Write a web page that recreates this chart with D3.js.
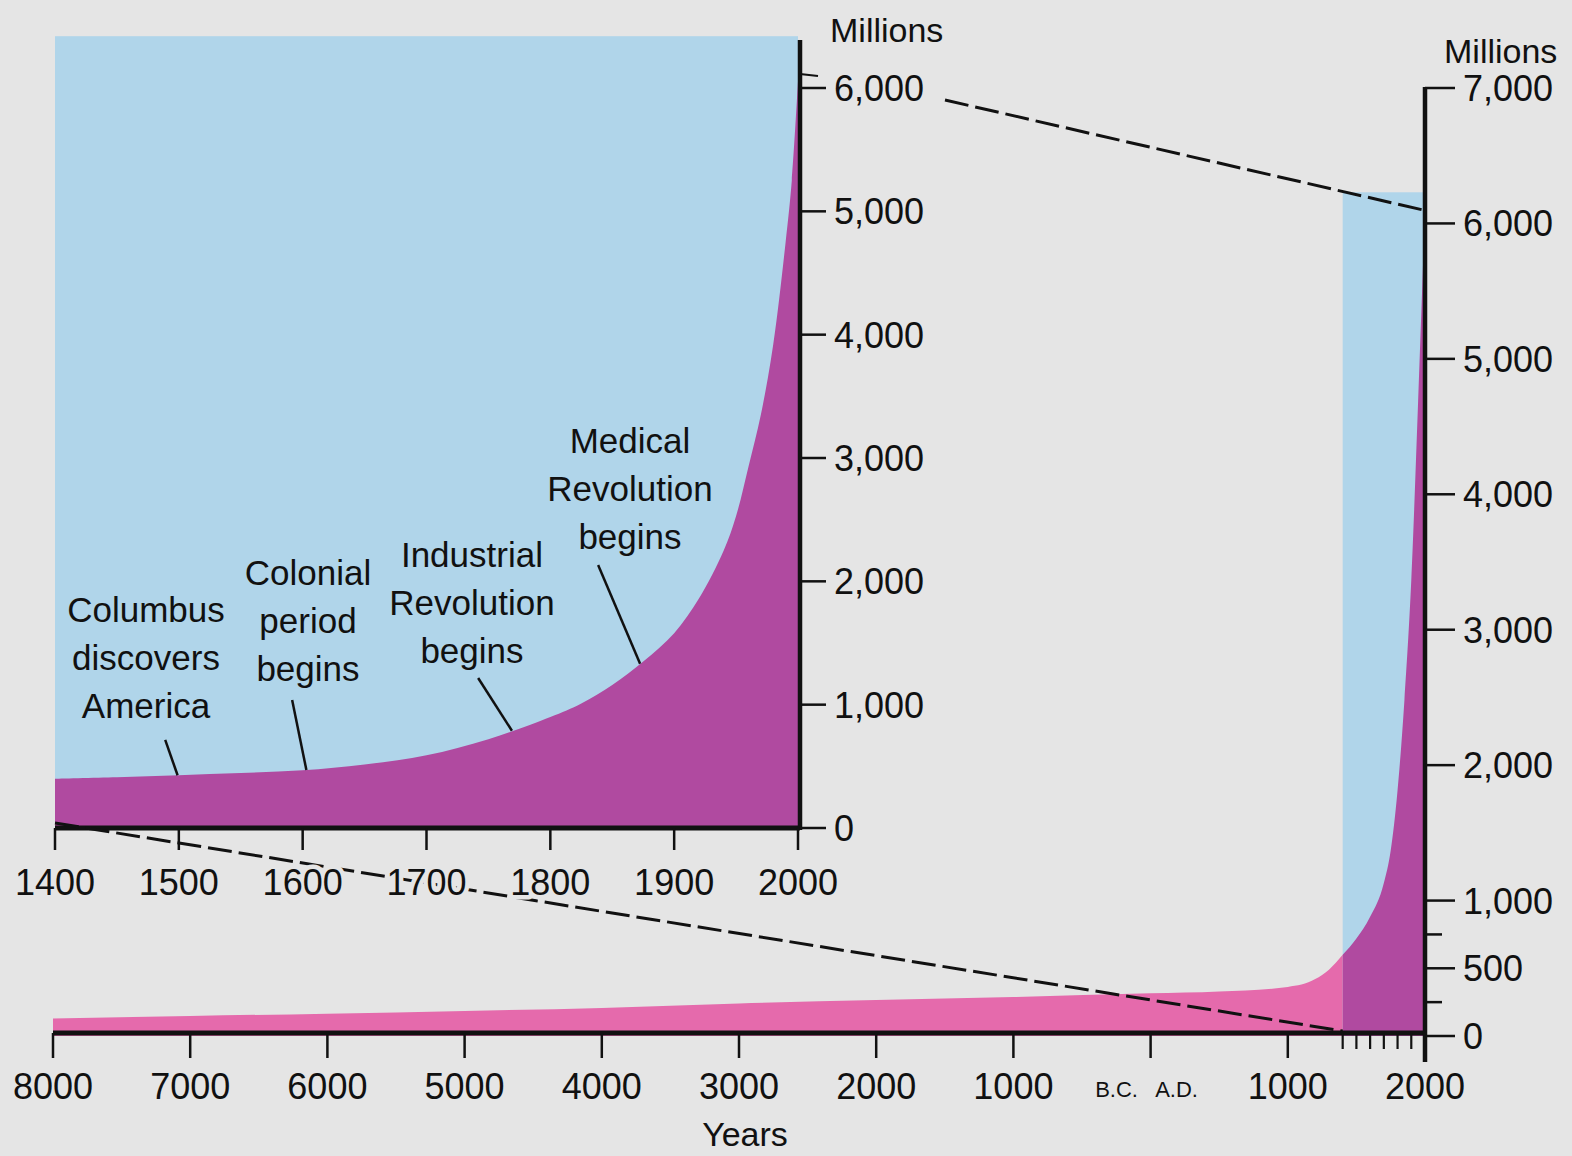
<!DOCTYPE html>
<html><head><meta charset="utf-8">
<script src="https://cdn.jsdelivr.net/npm/d3@7"></script>
<style>
html,body{margin:0;padding:0;background:#e5e5e5;}
svg{display:block;font-family:"Liberation Sans",Arial,Helvetica,sans-serif;}
</style></head><body>
<svg id="c" width="1572" height="1156"></svg>
<script>
// ---------- data ----------
// Inset: world population 1400-2000 (millions)
const insetYears = [1400,1450,1500,1550,1600,1650,1700,1750,1800,1825,1850,1875,1900,1920,1940,1950,1960,1970,1980,1990,1995,2000];
const insetPop   = [400, 412, 428, 445, 468, 515, 590, 720, 900,1010,1160,1350,1580,1860,2250,2530,2930,3350,3920,4750,5250,6050];
const insetTickYears = [1400,1500,1600,1700,1800,1900,2000];
const insetTickPop = [0,1000,2000,3000,4000,5000,6000];
const insetTopPop = 6420;

// Long view: 8000 B.C. - A.D. 1400 (negative = B.C.)
const longYears = [-8000,-7000,-6000,-5000,-4000,-3000,-2000,-1000,0,500,1000,1200,1300,1400];
const longPop   = [130, 148, 165, 185, 207, 240, 265, 288, 315, 328, 362, 420, 490, 600];
// Long view: A.D. 1400 - 2000
const recentYears = [1400,1500,1600,1700,1750,1800,1850,1900,1950,2000];
const recentPop   = [600, 720, 880,1130,1370,1815,2480,3365,4690,6110];
const longTickYears  = [-8000,-7000,-6000,-5000,-4000,-3000,-2000,-1000,0,1000,2000];
const longTickLabels = ["8000","7000","6000","5000","4000","3000","2000","1000","","1000","2000"];
const longMinorYears = [1400,1500,1600,1700,1800,1900];
const rightTickPop = [0,500,1000,2000,3000,4000,5000,6000,7000];
const rightTickLabels = ["0","500","1,000","2,000","3,000","4,000","5,000","6,000","7,000"];
const rightMinorPop = [250,750];
const rightTopPop = 6230;

const annotations = [
  {lines:["Columbus","discovers","America"], year:1499, fromYear:1489, fromPop:714, labelYear:1473.5, labelPop:1670},
  {lines:["Colonial","period","begins"], year:1603, fromYear:1591.5, fromPop:1038, labelYear:1604.3, labelPop:1970},
  {lines:["Industrial","Revolution","begins"], year:1769, fromYear:1741.7, fromPop:1216, labelYear:1736.7, labelPop:2116},
  {lines:["Medical","Revolution","begins"], year:1872.5, fromYear:1838.6, fromPop:2133, labelYear:1864.3, labelPop:3041}
];

// ---------- layout ----------
const BG = "#e5e5e5", BLUE = "#b0d5ea", PURPLE = "#b04aa0", PINK = "#e56aac";
const svg = d3.select("#c");
svg.append("rect").attr("width",1572).attr("height",1156).attr("fill",BG);

const ix = d3.scaleLinear().domain([1400,2000]).range([55,798]);
const iy = d3.scaleLinear().domain([0,6000]).range([828,88]);
const lx = d3.scaleLinear().domain([-8000,2000]).range([53,1425]);
const ry = d3.scaleLinear().domain([0,7000]).range([1036,88]);
const smooth = d3.curveCatmullRom.alpha(0.5);

// ----- inset -----
svg.append("rect").attr("x",ix(1400)).attr("y",iy(insetTopPop))
  .attr("width",ix(2000)-ix(1400)).attr("height",iy(0)-iy(insetTopPop)).attr("fill",BLUE);
const insetData = insetYears.map((y,i)=>({x:y,v:insetPop[i]}));
svg.append("path").datum(insetData)
  .attr("d", d3.area().x(d=>ix(d.x)).y0(iy(0)).y1(d=>iy(d.v)).curve(smooth))
  .attr("fill",PURPLE);

// ----- long view -----
svg.append("rect").attr("x",lx(1400)).attr("y",ry(rightTopPop))
  .attr("width",lx(2000)-lx(1400)).attr("height",ry(0)-ry(rightTopPop)).attr("fill",BLUE);
const longData = longYears.map((y,i)=>({x:y,v:longPop[i]}));
svg.append("path").datum(longData)
  .attr("d", d3.area().x(d=>lx(d.x)).y0(ry(0)).y1(d=>ry(d.v)).curve(d3.curveMonotoneX))
  .attr("fill",PINK);
const recentData = recentYears.map((y,i)=>({x:y,v:recentPop[i]}));
svg.append("path").datum(recentData)
  .attr("d", d3.area().x(d=>lx(d.x)).y0(ry(0)).y1(d=>ry(d.v)).curve(d3.curveMonotoneX))
  .attr("fill",PURPLE);

// ----- axes: inset -----
const ax = svg.append("g").attr("stroke","#111").attr("fill","none");
ax.append("line").attr("x1",ix(1400)).attr("x2",ix(2000)+2).attr("y1",iy(0)).attr("y2",iy(0)).attr("stroke-width",5);
ax.append("line").attr("x1",ix(2000)+2).attr("x2",ix(2000)+2).attr("y1",40).attr("y2",iy(0)+2).attr("stroke-width",4.5);
insetTickYears.forEach(y=>{
  ax.append("line").attr("x1",ix(y)).attr("x2",ix(y)).attr("y1",iy(0)).attr("y2",iy(0)+22).attr("stroke-width",2.5);
});
insetTickPop.forEach(p=>{
  ax.append("line").attr("x1",ix(2000)+2).attr("x2",ix(2000)+28).attr("y1",iy(p)).attr("y2",iy(p)).attr("stroke-width",2.5);
});
ax.append("line").attr("x1",ix(2000)+2).attr("x2",ix(2000)+20).attr("y1",iy(6000)-14).attr("y2",iy(6000)-12).attr("stroke-width",2.2);

// ----- axes: long view -----
ax.append("line").attr("x1",lx(-8000)).attr("x2",lx(2000)).attr("y1",ry(0)-3).attr("y2",ry(0)-3).attr("stroke-width",5);
longTickYears.forEach(y=>{
  ax.append("line").attr("x1",lx(y)).attr("x2",lx(y)).attr("y1",ry(0)-3).attr("y2",ry(0)+22).attr("stroke-width",2.5);
});
longMinorYears.forEach(y=>{
  ax.append("line").attr("x1",lx(y)).attr("x2",lx(y)).attr("y1",ry(0)-3).attr("y2",ry(0)+13).attr("stroke-width",2.2);
});
ax.append("line").attr("x1",lx(2000)).attr("x2",lx(2000)).attr("y1",ry(7000)-1).attr("y2",ry(0)+26).attr("stroke-width",4.5);
rightTickPop.forEach(p=>{
  ax.append("line").attr("x1",lx(2000)).attr("x2",lx(2000)+30).attr("y1",ry(p)).attr("y2",ry(p)).attr("stroke-width",2.5);
});
rightMinorPop.forEach(p=>{
  ax.append("line").attr("x1",lx(2000)).attr("x2",lx(2000)+17).attr("y1",ry(p)).attr("y2",ry(p)).attr("stroke-width",2.5);
});

// ----- dashed connector lines -----
const dash = svg.append("g").attr("stroke","#111").attr("stroke-width",3).attr("stroke-dasharray","24,7").attr("fill","none");
dash.append("line").attr("x1",ix(2000)+147).attr("y1",iy(6000)+12).attr("x2",lx(2000)).attr("y2",ry(6000)-13);
dash.append("line").attr("x1",ix(1400)).attr("y1",iy(0)-5).attr("x2",lx(1400)).attr("y2",ry(0)-5);

// ----- labels -----
const txt = svg.append("g").attr("fill","#111");
function knock(sel){ return sel.attr("stroke",BG).attr("stroke-width",9).attr("paint-order","stroke").attr("stroke-linejoin","round"); }
insetTickYears.forEach(y=>{
  knock(txt.append("text").attr("x",ix(y)).attr("y",895).attr("text-anchor","middle").attr("font-size",36).text(y));
});
insetTickPop.forEach(p=>{
  txt.append("text").attr("x",ix(2000)+36).attr("y",iy(p)).attr("dy","0.36em").attr("font-size",36).text(d3.format(",")(p));
});
txt.append("text").attr("x",830).attr("y",42).attr("font-size",34).text("Millions");

longTickYears.forEach((y,i)=>{
  txt.append("text").attr("x",lx(y)).attr("y",1099).attr("text-anchor","middle").attr("font-size",36).text(longTickLabels[i]);
});
txt.append("text").attr("x",lx(0)-34).attr("y",1097).attr("text-anchor","middle").attr("font-size",22).text("B.C.");
txt.append("text").attr("x",lx(0)+26).attr("y",1097).attr("text-anchor","middle").attr("font-size",22).text("A.D.");
txt.append("text").attr("x",745).attr("y",1146).attr("text-anchor","middle").attr("font-size",34).text("Years");
rightTickPop.forEach((p,i)=>{
  txt.append("text").attr("x",lx(2000)+38).attr("y",ry(p)).attr("dy","0.36em").attr("font-size",36).text(rightTickLabels[i]);
});
txt.append("text").attr("x",1444).attr("y",63).attr("font-size",34).text("Millions");

// ----- annotations -----
const curveAt = d3.scaleLinear().domain(insetYears).range(insetPop);
annotations.forEach(a=>{
  svg.append("line").attr("x1",ix(a.fromYear)).attr("y1",iy(a.fromPop))
    .attr("x2",ix(a.year)).attr("y2",iy(curveAt(a.year)))
    .attr("stroke","#111").attr("stroke-width",2.5);
  const t = txt.append("text").attr("text-anchor","middle").attr("font-size",35);
  a.lines.forEach((l,k)=>{
    t.append("tspan").attr("x",ix(a.labelYear)).attr("y",iy(a.labelPop)+k*48).text(l);
  });
});
</script></body></html>
